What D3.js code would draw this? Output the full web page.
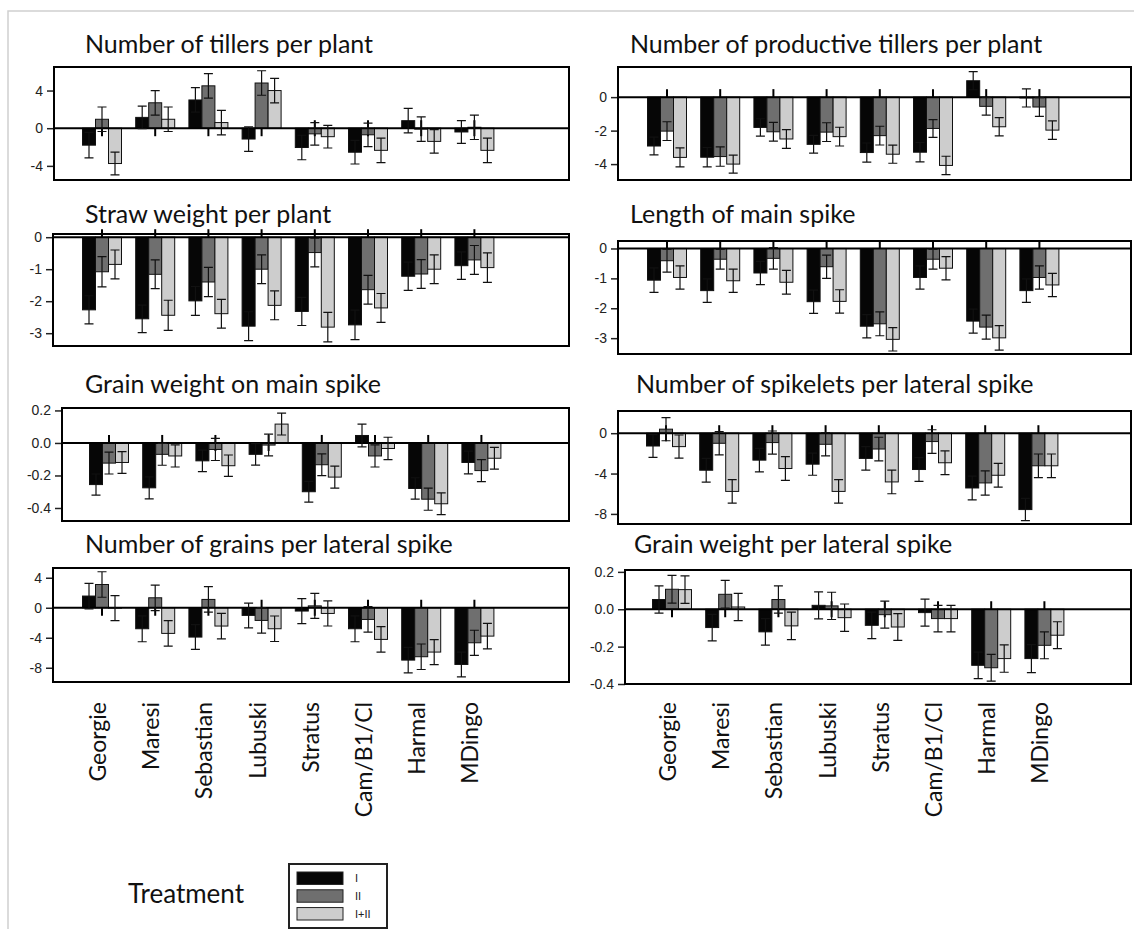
<!DOCTYPE html>
<meta charset="utf-8">
<style>
body {
    margin: 0;
    background: #fff;
}
.frame {
    fill: none;
    stroke: #000;
    stroke-width: 2px;
}
.title {
    font-family: Lato, "Open Sans", sans-serif;
    font-size: 25px;
    fill: #111;
}
.yaxis text {
    font-family: "Liberation Sans", Arial, sans-serif;
    font-size: 14px;
    fill: #222;
}
.yaxis line {
    stroke: #222;
    stroke-width: 1.5px;
}
.zero, .gtick {
    stroke: #000;
    stroke-width: 2px;
}
.bar {
    stroke: #111;
    stroke-width: 1px;
}
.err {
    stroke: #111;
    stroke-width: 1.2px;
    fill: none;
}
.xlabel {
    font-family: Lato, "Open Sans", sans-serif;
    font-size: 23px;
    fill: #111;
}
</style>
<svg width="1134" height="929"></svg>

<script src="https://cdn.jsdelivr.net/npm/d3@7"></script>
<script>
const varieties = ['Georgie', 'Maresi', 'Sebastian', 'Lubuski', 'Stratus', 'Cam/B1/Cl', 'Harmal', 'MDingo'];
const treatments = ['I', 'II', 'I+II'];
const colors = ['#060606', '#6f6f6f', '#cdcdcd'];

// values per treatment: [I, II, I+II], each over varieties
const tillers = [
    [-1.8, 1.15, 3.0, -1.15, -2.05, -2.55, 0.8, -0.4],
    [0.95, 2.7, 4.5, 4.8, -0.6, -0.7, -0.1, 0.1],
    [-3.75, 0.95, 0.6, 4.0, -0.9, -2.35, -1.4, -2.35]
];
const tillersSE = [
    [1.35, 1.2, 1.3, 1.3, 1.3, 1.25, 1.3, 1.2],
    [1.3, 1.3, 1.3, 1.3, 1.2, 1.25, 1.3, 1.3],
    [1.2, 1.3, 1.3, 1.3, 1.2, 1.3, 1.25, 1.3]
];
const prodTillers = [
    [-2.92, -3.59, -1.81, -2.82, -3.31, -3.29, 0.98, -0.05],
    [-2.03, -3.55, -2.07, -2.09, -2.3, -1.87, -0.55, -0.59],
    [-3.6, -4.0, -2.5, -2.36, -3.41, -4.08, -1.77, -1.97]
];
const prodTillersSE = [
    [0.53, 0.58, 0.52, 0.53, 0.57, 0.58, 0.54, 0.54],
    [0.56, 0.58, 0.56, 0.56, 0.56, 0.53, 0.53, 0.56],
    [0.57, 0.54, 0.56, 0.56, 0.54, 0.55, 0.55, 0.55]
];
const straw = [
    [-2.27, -2.55, -1.99, -2.78, -2.32, -2.74, -1.22, -0.89],
    [-1.08, -1.16, -1.4, -1.0, -0.48, -1.64, -1.15, -0.71],
    [-0.85, -2.44, -2.39, -2.13, -2.81, -2.21, -1.0, -0.95]
];
const strawSE = [
    [0.44, 0.43, 0.45, 0.45, 0.44, 0.46, 0.44, 0.43],
    [0.47, 0.45, 0.46, 0.45, 0.45, 0.45, 0.45, 0.45],
    [0.45, 0.47, 0.45, 0.45, 0.46, 0.45, 0.45, 0.46]
];
const spikeLength = [
    [-1.06, -1.41, -0.82, -1.78, -2.6, -0.97, -2.43, -1.41],
    [-0.41, -0.36, -0.33, -0.61, -2.52, -0.36, -2.63, -0.97],
    [-0.97, -1.08, -1.13, -1.77, -3.04, -0.66, -2.99, -1.22]
];
const spikeLengthSE = [
    [0.41, 0.39, 0.39, 0.39, 0.39, 0.39, 0.4, 0.39],
    [0.38, 0.33, 0.36, 0.39, 0.4, 0.33, 0.4, 0.39],
    [0.39, 0.39, 0.4, 0.39, 0.39, 0.39, 0.41, 0.39]
];
const grainMain = [
    [-0.256, -0.276, -0.11, -0.07, -0.30, 0.046, -0.28, -0.12],
    [-0.124, -0.07, -0.04, -0.013, -0.134, -0.08, -0.346, -0.17],
    [-0.12, -0.08, -0.14, 0.116, -0.21, -0.034, -0.374, -0.094]
];
const grainMainSE = [
    [0.065, 0.068, 0.066, 0.066, 0.064, 0.07, 0.066, 0.07],
    [0.067, 0.067, 0.068, 0.067, 0.067, 0.068, 0.068, 0.068],
    [0.067, 0.068, 0.066, 0.067, 0.068, 0.069, 0.067, 0.067]
];
const spikelets = [
    [-1.27, -3.67, -2.67, -3.07, -2.5, -3.6, -5.43, -7.57],
    [0.4, -1.0, -0.93, -1.1, -1.57, -0.83, -4.93, -3.23],
    [-1.33, -5.77, -3.5, -5.77, -4.83, -2.93, -4.17, -3.23]
];
const spikeletsSE = [
    [1.13, 1.17, 1.17, 1.1, 1.17, 1.17, 1.17, 1.1],
    [1.15, 1.15, 1.15, 1.15, 1.17, 1.17, 1.2, 1.17],
    [1.15, 1.17, 1.17, 1.17, 1.17, 1.17, 1.17, 1.17]
];
const grainsLat = [
    [1.56, -2.8, -3.91, -1.02, -0.44, -2.8, -6.98, -7.56],
    [3.1, 1.33, 1.11, -1.69, 0.25, -1.56, -6.53, -4.67],
    [-0.05, -3.42, -2.44, -2.8, -0.76, -4.22, -5.91, -3.78]
];
const grainsLatSE = [
    [1.7, 1.73, 1.65, 1.65, 1.67, 1.73, 1.7, 1.65],
    [1.7, 1.7, 1.7, 1.7, 1.67, 1.7, 1.7, 1.67],
    [1.67, 1.7, 1.7, 1.7, 1.67, 1.7, 1.67, 1.69]
];
const grainWtLat = [
    [0.052, -0.098, -0.121, 0.021, -0.086, -0.018, -0.30, -0.264],
    [0.107, 0.08, 0.052, 0.018, -0.029, -0.05, -0.313, -0.193],
    [0.105, 0.012, -0.089, -0.045, -0.095, -0.05, -0.264, -0.139]
];
const grainWtLatSE = [
    [0.073, 0.071, 0.071, 0.072, 0.071, 0.072, 0.071, 0.075],
    [0.074, 0.074, 0.073, 0.073, 0.072, 0.071, 0.072, 0.072],
    [0.074, 0.073, 0.074, 0.073, 0.072, 0.071, 0.073, 0.072]
];

const titles = [
    'Number of tillers per plant', 'Number of productive tillers per plant',
    'Straw weight per plant', 'Length of main spike',
    'Grain weight on main spike', 'Number of spikelets per lateral spike',
    'Number of grains per lateral spike', 'Grain weight per lateral spike'
];
const yTicks = [
    [-4, 0, 4], [-4, -2, 0],
    [-3, -2, -1, 0], [-3, -2, -1, 0],
    [-0.4, -0.2, 0, 0.2], [-8, -4, 0],
    [-8, -4, 0, 4], [-0.4, -0.2, 0, 0.2]
];
const yDomains = [
    [-5.5, 6.5], [-4.95, 1.8],
    [-3.4, 0.1], [-3.53, 0.25],
    [-0.48, 0.215], [-9.0, 2.2],
    [-9.9, 5.3], [-0.4, 0.21]
];
const values = [tillers, prodTillers, straw, spikeLength, grainMain, spikelets, grainsLat, grainWtLat];
const errors = [tillersSE, prodTillersSE, strawSE, spikeLengthSE, grainMainSE, spikeletsSE, grainsLatSE, grainWtLatSE];

// layout: frame box, first group centre, title anchor
const boxes = [
    {l: 54, t: 67, r: 569, b: 180, c0: 102, tx: 85, ty: 53},
    {l: 618, t: 67, r: 1131, b: 180, c0: 667, tx: 630, ty: 53},
    {l: 53, t: 234, r: 569, b: 346, c0: 102, tx: 85, ty: 223},
    {l: 618, t: 241, r: 1131, b: 354, c0: 667, tx: 630, ty: 223},
    {l: 62, t: 408, r: 569, b: 521, c0: 109, tx: 85, ty: 393},
    {l: 618, t: 411, r: 1131, b: 524, c0: 666, tx: 636, ty: 393},
    {l: 53, t: 568, r: 569, b: 682, c0: 102, tx: 85, ty: 553},
    {l: 625, t: 570, r: 1131, b: 684, c0: 672, tx: 634, ty: 553}
];
const step = 53.2;

let svg = d3.select('svg');

// outer grey border of the original figure
svg.append('path')
    .attr('d', 'M8,929V11H1134')
    .attr('fill', 'none')
    .attr('stroke', '#d0d0d0')
    .attr('stroke-width', 1.5);

let sub = d3.scaleBand().domain(treatments).range([-19.5, 19.5]);

boxes.forEach((bx, i) => {
    let g = svg.append('g');
    let x = d3.scalePoint()
        .domain(varieties)
        .range([bx.c0, bx.c0 + step * (varieties.length - 1)]);
    let y = d3.scaleLinear().domain(yDomains[i]).range([bx.b, bx.t]);
    let small = Math.abs(yDomains[i][0]) < 1;

    g.append('text').attr('class', 'title')
        .attr('x', bx.tx).attr('y', bx.ty)
        .text(titles[i]);

    let ax = g.append('g').attr('class', 'yaxis')
        .attr('transform', `translate(${bx.l},0)`)
        .call(d3.axisLeft(y).tickValues(yTicks[i]).tickSize(7).tickPadding(4)
            .tickFormat(small ? d3.format('.1f') : d3.format('d')));
    ax.select('.domain').remove();
    ax.selectAll('text').text(function() { return this.textContent.replace('−', '-'); });

    let y0 = y(0);
    // category ticks on the zero line
    g.append('g').selectAll('line')
        .data(varieties)
        .enter().append('line')
            .attr('class', 'gtick')
            .attr('x1', d => x(d)).attr('x2', d => x(d))
            .attr('y1', y0 - 8).attr('y2', y0 + 8);

    let rows = [];
    treatments.forEach((t, ti) => {
        varieties.forEach((v, vi) => {
            rows.push({v: v, t: t, ti: ti, m: values[i][ti][vi], se: errors[i][ti][vi]});
        });
    });

    g.append('g').selectAll('rect')
        .data(rows)
        .enter().append('rect')
            .attr('class', 'bar')
            .attr('x', d => x(d.v) + sub(d.t))
            .attr('width', sub.bandwidth())
            .attr('y', d => Math.min(y(d.m), y0))
            .attr('height', d => Math.abs(y(d.m) - y0))
            .attr('fill', d => colors[d.ti]);

    g.append('line').attr('class', 'zero')
        .attr('x1', bx.l).attr('x2', bx.r)
        .attr('y1', y0).attr('y2', y0);

    g.append('g').selectAll('path')
        .data(rows)
        .enter().append('path')
            .attr('class', 'err')
            .attr('d', d => {
                let cx = x(d.v) + sub(d.t) + sub.bandwidth() / 2;
                let hi = y(d.m + d.se), lo = y(d.m - d.se);
                return `M${cx - 4.5},${hi}H${cx + 4.5}M${cx},${hi}V${lo}M${cx - 4.5},${lo}H${cx + 4.5}`;
            });

    g.append('rect').attr('class', 'frame')
        .attr('x', bx.l).attr('y', bx.t)
        .attr('width', bx.r - bx.l).attr('height', bx.b - bx.t);

    // variety names under the bottom panels
    if (i >= 6) {
        svg.append('g').selectAll('text')
            .data(varieties)
            .enter().append('text')
                .attr('class', 'xlabel')
                .attr('text-anchor', 'end')
                .attr('dy', '0.35em')
                .attr('transform', d => `translate(${x(d) - 4},702) rotate(-90)`)
                .text(d => d);
    }
});

// legend
let lg = svg.append('g');
lg.append('text')
    .attr('x', 128).attr('y', 903)
    .attr('font-family', 'Lato, "Open Sans", sans-serif')
    .attr('font-size', 26)
    .attr('fill', '#111')
    .text('Treatment');
lg.append('rect')
    .attr('x', 289).attr('y', 864).attr('width', 98).attr('height', 64)
    .attr('fill', '#fff').attr('stroke', '#222').attr('stroke-width', 2);
let ly = d3.scaleBand().domain(treatments).range([872, 920]).paddingInner(0.3);
lg.selectAll('.sw')
    .data(treatments)
    .enter().append('rect')
        .attr('x', 297).attr('y', d => ly(d))
        .attr('width', 46).attr('height', ly.bandwidth())
        .attr('fill', (d, i) => colors[i])
        .attr('stroke', '#222').attr('stroke-width', 1);
lg.selectAll('.lt')
    .data(treatments)
    .enter().append('text')
        .attr('x', 355).attr('y', d => ly(d) + ly.bandwidth() / 2)
        .attr('dy', '0.35em')
        .attr('font-family', '"Liberation Sans", Arial, sans-serif')
        .attr('font-size', 11)
        .attr('fill', '#222')
        .text(d => d);
</script>
